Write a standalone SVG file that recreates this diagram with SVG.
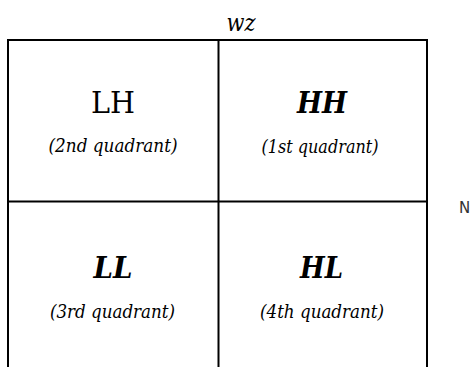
<svg xmlns="http://www.w3.org/2000/svg" width="472" height="367" viewBox="0 0 472 367">
<style>
.ln{stroke:#000;stroke-width:2;fill:none}
.t{fill:#000;text-anchor:middle;font-family:'DejaVu Serif',serif}
.big{font-size:29px}
.bi{font-weight:bold;font-style:italic}
.sub{font-size:18px;font-style:italic}
</style>
<rect width="472" height="367" fill="#fff"/>
<g id="connectors">
<path class="ln" d="M8 367V40H427V367"/>
<path class="ln" d="M218.5 40V367"/>
<path class="ln" d="M8 201.5H427"/>
</g>
<g id="axis-label"><text class="t" x="241" y="31" font-size="25" font-style="italic" textLength="29" lengthAdjust="spacingAndGlyphs">wz</text></g>
<g id="LH"><text class="t big" x="113" y="112.5" textLength="44" lengthAdjust="spacingAndGlyphs">LH</text><text class="t sub" x="113" y="152" textLength="129" lengthAdjust="spacingAndGlyphs">(2nd quadrant)</text></g>
<g id="HH"><text class="t big bi" x="322" y="112.5" textLength="50" lengthAdjust="spacingAndGlyphs">HH</text><text class="t sub" x="320" y="153" textLength="117" lengthAdjust="spacingAndGlyphs">(1st quadrant)</text></g>
<g id="LL"><text class="t big bi" x="113" y="278" textLength="39" lengthAdjust="spacingAndGlyphs">LL</text><text class="t sub" x="112.5" y="318" textLength="125" lengthAdjust="spacingAndGlyphs">(3rd quadrant)</text></g>
<g id="HL"><text class="t big bi" x="321.5" y="278" textLength="43" lengthAdjust="spacingAndGlyphs">HL</text><text class="t sub" x="322" y="318" textLength="124" lengthAdjust="spacingAndGlyphs">(4th quadrant)</text></g>
<g id="edge-label"><text x="459" y="213" font-size="15" fill="#333" font-family="'DejaVu Sans',sans-serif">N</text></g>
</svg>
